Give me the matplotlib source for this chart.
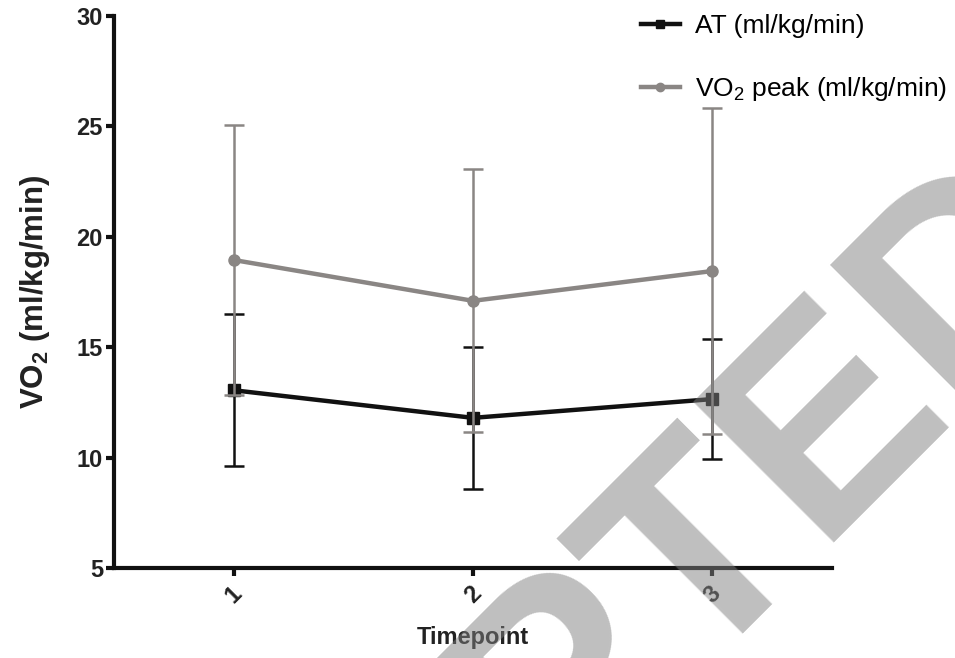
import matplotlib
matplotlib.use("Agg")
import matplotlib.pyplot as plt
from matplotlib.lines import Line2D

plt.rcParams['font.family'] = ['Liberation Sans', 'DejaVu Sans']
plt.rcParams['mathtext.default'] = 'regular'

# Data
timepoints = [1, 2, 3]
tick_labels = ['1', '2', '3']
at_mean = [13.05, 11.8, 12.65]
at_err = [3.45, 3.2, 2.7]
vo2_mean = [18.95, 17.1, 18.45]
vo2_err = [6.1, 5.95, 7.4]
series_labels = ['AT (ml/kg/min)', 'VO$_2$ peak (ml/kg/min)']

fig = plt.figure(figsize=(9.55, 6.58), dpi=100)
ax = fig.add_axes([114/955, 1-568/658, (832-114)/955, 552/658])

black = '#111111'
gray = '#8a8684'

ax.errorbar(timepoints, at_mean, yerr=at_err, color=black, lw=3.2, marker='s', ms=8,
            ecolor=black, elinewidth=1.8, capsize=7, capthick=1.8, zorder=3)
ax.errorbar(timepoints, vo2_mean, yerr=vo2_err, color=gray, lw=3.2, marker='o', ms=8,
            ecolor=gray, elinewidth=1.8, capsize=7, capthick=1.8, zorder=4)

ax.set_xlim(0.5, 3.5)
ax.set_ylim(5, 30)
ax.set_yticks([5, 10, 15, 20, 25, 30])
ax.set_xticks(timepoints)
ax.set_xticklabels(tick_labels, rotation=45, ha='center', va='top')

for s in ['top', 'right']:
    ax.spines[s].set_visible(False)
for s in ['left', 'bottom']:
    ax.spines[s].set_linewidth(3)
    ax.spines[s].set_color(black)
ax.tick_params(axis='both', direction='out', length=6, width=3, color=black,
               labelsize=17, pad=2)
ax.tick_params(axis='x', pad=4)
for lab in ax.get_xticklabels() + ax.get_yticklabels():
    lab.set_fontweight('bold')
    lab.set_color('#222222')

ax.set_xlabel('Timepoint', fontsize=17, fontweight='bold', labelpad=13, color='#222222')
ax.set_ylabel('VO$_2$ (ml/kg/min)', fontsize=22.5, fontweight='bold', labelpad=18, color='#222222')

handles = [
    Line2D([], [], color=black, lw=3.2, marker='s', ms=6),
    Line2D([], [], color=gray, lw=3.2, marker='o', ms=6),
]
fig.legend(handles, series_labels, loc='upper left', bbox_to_anchor=(636/955, 1-9/658),
           frameon=False, fontsize=19, handlelength=1.45, handletextpad=0.6,
           labelspacing=1.4, borderpad=0.2, borderaxespad=0)

# Watermark
fig.text(0.5655, -0.2614, 'ACCEPTED', fontsize=209, fontweight='bold', color='#808080',
         alpha=0.5, rotation=45, rotation_mode='anchor', ha='center', va='baseline',
         zorder=10)

fig.savefig('out.png', dpi=100)
